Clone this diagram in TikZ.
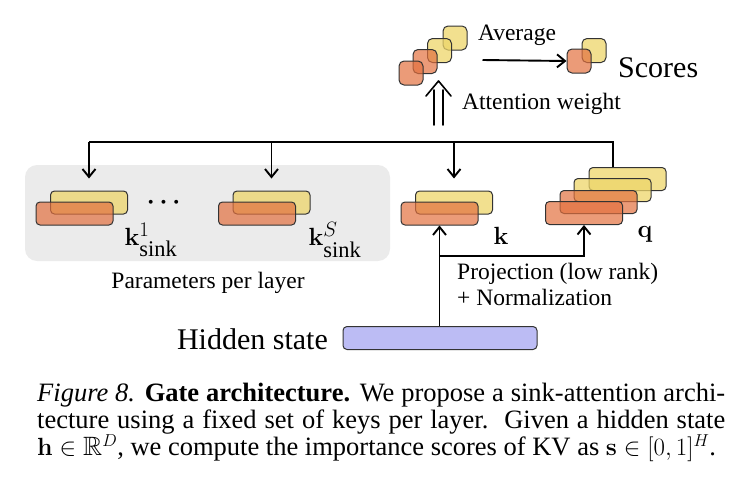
\documentclass[tikz,border=0pt]{standalone}
\usepackage{amsmath,amssymb}
\usepackage[no-math]{fontspec}
\setmainfont{Liberation Serif}
\usetikzlibrary{arrows.meta}
\definecolor{yel}{HTML}{EDD56A}
\definecolor{org}{HTML}{E2703F}
\definecolor{edge}{HTML}{333333}
\definecolor{bgray}{HTML}{EBEBEB}
\definecolor{lav}{HTML}{BCBCF4}
\tikzset{
  bar/.style={draw=edge, line width=1pt, rounded corners=4pt, minimum width=77pt, minimum height=23pt, inner sep=0pt, text opacity=1},
  ybar/.style={bar, fill=yel, fill opacity=0.75},
  obar/.style={bar, fill=org, fill opacity=0.7},
  sq/.style={draw=edge, line width=1pt, rounded corners=5pt, minimum width=24pt, minimum height=24pt, inner sep=0pt},
  ysq/.style={sq, fill=yel, fill opacity=0.75},
  osq/.style={sq, fill=org, fill opacity=0.7},
  conn/.style={line width=1.9pt, draw=black},
  arr/.style={conn, -{Straight Barb[length=8pt,width=13pt,line width=1.9pt]}},
  lbl/.style={inner sep=0pt, font=\fontsize{23.5}{26}\selectfont},
  big/.style={inner sep=0pt, font=\fontsize{30}{34}\selectfont},
  keylbl/.style={inner sep=0pt, font=\fontsize{32}{34}\selectfont},
}
\begin{document}
\begin{tikzpicture}[x=1pt,y=-1pt]
\useasboundingbox (0,0) rectangle (739,485);
% gray panel
\node[fill=bgray, rounded corners=12pt, minimum width=365pt, minimum height=96pt, inner sep=0pt] (panel) at (207.5,213) {};
% sink keys
\node[ybar] (s1y) at (89,202.5) {};
\node[obar] (s1o) at (74.5,213.5) {};
\node[ybar] (sSy) at (271.5,202.5) {};
\node[obar] (sSo) at (257,213.5) {};
\node[inner sep=0pt, font=\fontsize{29}{30}\selectfont] (dots) at (166,203) {$\boldsymbol{\cdots}$};
\node[keylbl] (l1) at (151,240) {$\mathbf{k}^{1}_{\text{sink}}$};
\node[keylbl] (lS) at (335,240) {$\mathbf{k}^{S}_{\text{sink}}$};
\node[lbl] (param) at (208,283) {Parameters per layer};
% k
\node[ybar] (ky) at (454,202.5) {};
\node[obar] (ko) at (439.5,213.5) {};
\node[keylbl] (kl) at (501,236) {$\mathbf{k}$};
% q
\node[ybar] (q1) at (627.5,179) {};
\node[ybar] (q2) at (612.5,190) {};
\node[obar] (q3) at (598.5,202) {};
\node[obar] (q4) at (584,213) {};
\node[keylbl] (ql) at (645,234) {$\mathbf{q}$};
% hidden state
\node[draw=edge, line width=1pt, fill=lav, rounded corners=4pt, minimum width=194pt, minimum height=23pt, inner sep=0pt] (hs) at (440,338) {};
\node[big, anchor=east] (hsl) at (328,339) {Hidden state};
\node[lbl, anchor=north west, align=left] (proj) at (457,263) {Projection (low rank)\\+ Normalization};
% top stack
\node[ysq] (t1) at (455,38) {};
\node[ysq] (t2) at (439.5,50.5) {};
\node[osq] (t3) at (425,61.5) {};
\node[osq] (t4) at (411,73) {};
\node[ysq] (r1) at (594,50.5) {};
\node[osq] (r2) at (579,61) {};
\node[big, anchor=west] (scores) at (618,68) {Scores};
\node[lbl] (avg) at (517,35) {Average};
\node[lbl, anchor=west] (attw) at (462,104) {Attention weight};
\draw[arr] (t1.east |- 0,60) ++(15,0) coordinate (a1) -- (r2.west);
% top routing
\coordinate (tl) at (89,142);
\coordinate (tr) at (613,142);
\draw[conn] (s1y.north |- tl) -- (tr) -- (tr |- q1.north);
\draw[arr] (s1y.north |- tl) -- ([yshift=12pt]s1y.north);
\draw[arr] (sSy.north |- tl) -- ([yshift=12pt]sSy.north);
\draw[arr] (ky.north |- tl) -- ([yshift=12pt]ky.north);
% double arrow (drawn as two shafts and a curved head)
\coordinate (da0) at (438.5,125);
\coordinate (da1) at (438.5,81);
\draw[line width=1.8pt, line cap=round] ([xshift=-4.5pt]da0) -- ([xshift=-4.5pt,yshift=-9pt]da1);
\draw[line width=1.8pt, line cap=round] ([xshift=4.5pt]da0) -- ([xshift=4.5pt,yshift=-9pt]da1);
\draw[line width=1.6pt, line cap=round, line join=round] ([xshift=-12.5pt,yshift=-15pt]da1) .. controls ([xshift=-6pt,yshift=-7pt]da1) .. (da1) .. controls ([xshift=6pt,yshift=-7pt]da1) .. ([xshift=12.5pt,yshift=-15pt]da1);
% bottom routing
\coordinate (br) at (ko.south |- 0,256);
\draw[arr] (hs.north -| ko.south) -- (ko.south);
\draw[arr] (br) -| (q4.south);
% caption
\node[anchor=north west, inner sep=0pt, text width=688pt, align=justify, font=\fontsize{26.5}{26.5}\selectfont] (cap) at (37,383) {\textit{Figure 8.} \textbf{Gate architecture.} We propose a sink-attention archi-\linebreak tecture using a fixed set of keys per layer.\ \ Given a hidden state\linebreak $\mathbf{h}\in\mathbb{R}^{D}$, we compute the importance scores of KV as $\mathbf{s}\in[0,1]^{H}$.};
\end{tikzpicture}
\end{document}
